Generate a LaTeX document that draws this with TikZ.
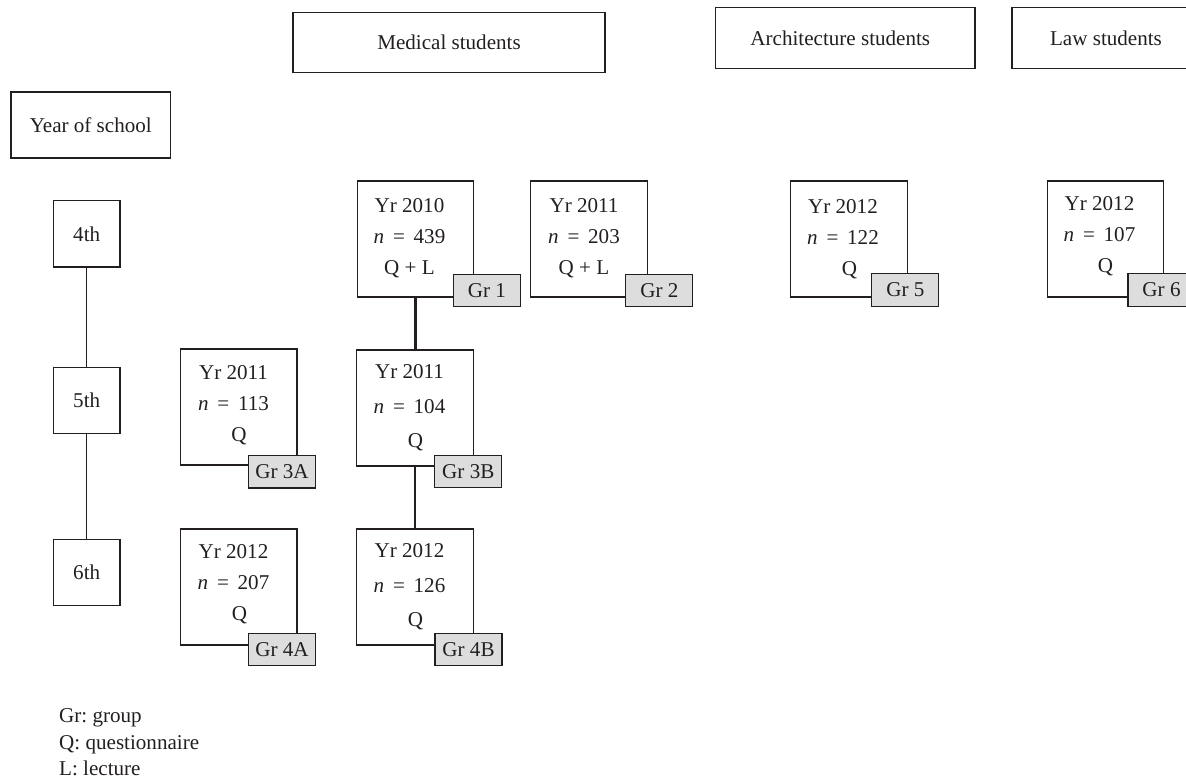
\documentclass[tikz,border=0pt]{standalone}
\usepackage{fontspec}
\setmainfont{Liberation Serif}
\frenchspacing
\definecolor{ink}{RGB}{35,31,32}
\definecolor{tagfill}{RGB}{221,221,221}

\begin{document}
\begin{tikzpicture}[x=0.02cm,y=-0.02cm,
    every node/.style={text=ink, font=\fontsize{12}{14}\selectfont},
    frame/.style={draw=ink, line width=0.7pt, inner sep=0pt, outer sep=0pt},
    yearbox/.style={frame, minimum width=1.334cm, minimum height=1.326cm},
    groupbox/.style={frame, minimum width=2.33cm, minimum height=2.32cm},
    info/.style={align=center, font=\fontsize{12}{17.5}\selectfont},
    tag/.style={frame, fill=tagfill, minimum width=1.34cm, minimum height=0.65cm},
    link/.style={draw=ink, line width=0.7pt}]
            \useasboundingbox (0,0) rectangle (1186,777);
            \clip (0,0) rectangle (1186,777);

            % headings
            \node[frame, minimum width=6.24cm, minimum height=1.21cm] (Med) at (449,42.5) {Medical students};
            \node[frame, minimum width=5.19cm, minimum height=1.22cm] (Arch) at (845.3,37.8) {\hspace*{-0.2cm}Architecture students};
            \node[frame, minimum width=3.76cm, minimum height=1.22cm] (Law) at (1106,37.8) {Law students};
            \node[frame, minimum width=3.19cm, minimum height=1.32cm] (Yos) at (90.8,125) {Year of school};

            % year of school
            \node[yearbox] (Y4) at (86.7,233.8) {4th};
            \node[yearbox] (Y5) at (86.7,400.5) {5th};
            \node[yearbox] (Y6) at (86.7,572.5) {6th};
            \draw[link] (Y4) -- (Y5);
            \draw[link] (Y5) -- (Y6);

            % groups
            \node[groupbox] (M10) at (415.5,239) {};
            \node[groupbox] (M11) at (589,239) {};
            \node[groupbox] (A12) at (849,239) {};
            \node[groupbox] (L12) at (1105.5,239) {};
            \node[groupbox] (C11) at (238.7,407) {};
            \node[groupbox] (B11) at (415,408) {};
            \node[groupbox] (C12) at (238.7,587) {};
            \node[groupbox] (B12) at (415,587) {};

            \node[info] (M10t) at (409.5,238) {Yr 2010\\ \textit{n}~\,=\,~439\\ Q + L};
            \node[info] (M11t) at (584,238) {Yr 2011\\ \textit{n}~\,=\,~203\\ Q + L};
            \node[info] (A12t) at (843,239) {Yr 2012\\ \textit{n}~\,=\,~122\\ \hspace*{0.26cm}Q};
            \node[info] (L12t) at (1099.5,236) {Yr 2012\\ \textit{n}~\,=\,~107\\ \hspace*{0.24cm}Q};
            \node[info] (C11t) at (233.5,405) {Yr 2011\\ \textit{n}~\,=\,~113\\ \hspace*{0.22cm}Q};
            \node[info, font=\fontsize{12}{19.6}\selectfont] (B11t) at (409.5,408) {Yr 2011\\ \textit{n}~\,=\,~104\\ \hspace*{0.24cm}Q};
            \node[info] (C12t) at (233.5,584) {Yr 2012\\ \textit{n}~\,=\,~207\\ \hspace*{0.24cm}Q};
            \node[info, font=\fontsize{12}{19.6}\selectfont] (B12t) at (409.5,587) {Yr 2012\\ \textit{n}~\,=\,~126\\ \hspace*{0.24cm}Q};

            \draw[link, line width=1.6pt] (M10.south) -- (M10.south |- B11.north);
            \draw[link] (B11) -- (B12);

            % group labels
            \node[tag] (G1) at (487,290.5) {Gr 1};
            \node[tag] (G2) at (659.3,290.5) {Gr 2};
            \node[tag] (G5) at (905.3,290) {Gr 5};
            \node[tag] (G6) at (1161.5,290) {Gr 6};
            \node[tag] (G3A) at (282,471.7) {Gr 3A};
            \node[tag] (G3B) at (468.3,471.5) {Gr 3B};
            \node[tag] (G4A) at (282,649.5) {Gr 4A};
            \node[tag] (G4B) at (468.5,649.5) {Gr 4B};

            % legend
            \node[anchor=base west] (KGr) at (53,722) {Gr: group};
            \node[anchor=base west] (KQ) at (53,749) {Q: questionnaire};
            \node[anchor=base west] (KL) at (53,775) {L: lecture};
        \end{tikzpicture}
\end{document}
